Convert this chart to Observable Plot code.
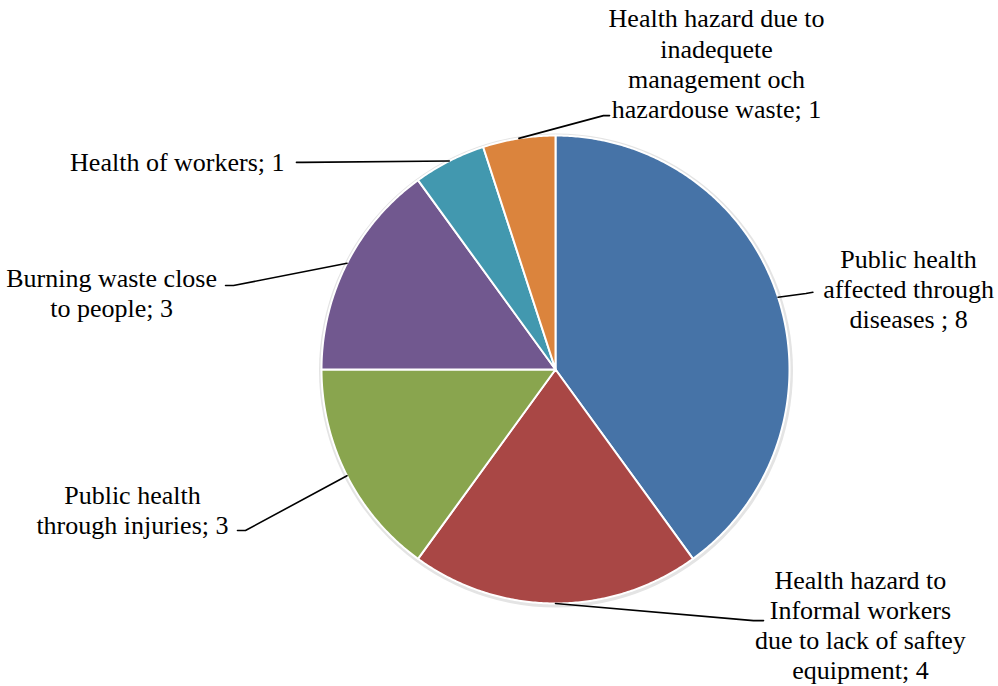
<!DOCTYPE html>
<html>
<head>
<meta charset="utf-8">
<script src="https://cdn.jsdelivr.net/npm/d3@7"></script>
<script src="https://cdn.jsdelivr.net/npm/@observablehq/plot@0.6"></script>
<style>
  html, body { margin: 0; padding: 0; background: #ffffff; }
  #chart { width: 998px; height: 686px; }
</style>
</head>
<body>
<div id="chart"></div>
<script>
// ---- Data ----
const categories = [
  "Public health affected through diseases",
  "Health hazard to Informal workers due to lack of saftey equipment",
  "Public health through injuries",
  "Burning waste close to people",
  "Health of workers",
  "Health hazard due to inadequete management och hazardouse waste"
];
const values = [8, 4, 3, 3, 1, 1];
const labelTexts = [
  "Public health\naffected through\ndiseases ; 8",
  "Health hazard to\nInformal workers\ndue to lack of saftey\nequipment; 4",
  "Public health\nthrough injuries; 3",
  "Burning waste close\nto people; 3",
  "Health of workers; 1",
  "Health hazard due to\ninadequete\nmanagement och\nhazardouse waste; 1"
];
const sliceColors = ["#4673A7", "#A94745", "#89A54E", "#71588F", "#4298AF", "#DB843D"];

// ---- Label layout (in pie-radius units) ----
const labelLayout = [
  {tx: 1.509, ty: 0.346, anchor: "middle", bx: 1.07, by: 0.325, ex: 1.10, ey: 0.330},
  {tx: 1.303, ty: -1.090, anchor: "middle", bx: 0.846, by: -1.073, ex: 0.889, ey: -1.073},
  {tx: -1.808, ty: -0.596, anchor: "middle", bx: -1.325, by: -0.688, ex: -1.359, ey: -0.688},
  {tx: -1.897, ty: 0.329, anchor: "middle", bx: -1.376, by: 0.359, ex: -1.410, ey: 0.359},
  {tx: -1.158, ty: 0.889, anchor: "end", bx: -1.081, by: 0.885, ex: -1.107, ey: 0.885},
  {tx: 0.688, ty: 1.310, anchor: "middle", bx: 0.205, by: 1.085, ex: 0.231, ey: 1.085}
];

// ---- Geometry from data ----
const arcs = d3.pie().sort(null).value(d => d)(values);
const slicePts = [];
arcs.forEach((a, i) => {
  const n = Math.max(8, Math.ceil((a.endAngle - a.startAngle) / (Math.PI / 360)));
  slicePts.push({k: i, x: 0, y: 0, c: sliceColors[i]});
  for (let j = 0; j <= n; j++) {
    const t = a.startAngle + (a.endAngle - a.startAngle) * j / n;
    slicePts.push({k: i, x: Math.sin(t), y: Math.cos(t), c: sliceColors[i]});
  }
  slicePts.push({k: i, x: 0, y: 0, c: sliceColors[i]});
});

const leaderPts = [];
arcs.forEach((a, i) => {
  const m = (a.startAngle + a.endAngle) / 2;
  const L = labelLayout[i];
  leaderPts.push({k: i, x: Math.sin(m), y: Math.cos(m)});
  leaderPts.push({k: i, x: L.bx, y: L.by});
  leaderPts.push({k: i, x: L.ex, y: L.ey});
});

const labelRows = labelTexts.map((t, i) => ({text: t, ...labelLayout[i]}));

const textOpts = anchor => ({
  x: "tx", y: "ty", text: "text",
  textAnchor: anchor,
  lineAnchor: "middle",
  lineHeight: 1.16,
  fontSize: 26,
  fontFamily: "'Liberation Serif', 'Times New Roman', serif",
  fill: "#000000"
});

const chart = Plot.plot({
  width: 998,
  height: 686,
  margin: 0,
  style: {background: "#ffffff"},
  x: {domain: [-1, 1], range: [321, 789], axis: null},
  y: {domain: [-1, 1], range: [603, 135], axis: null},
  marks: [
    Plot.dot([0], {x: () => 0, y: () => 0, r: 237, fill: "#e4e4e4", dx: 0.5, dy: 1}),
    Plot.line(slicePts, {x: "x", y: "y", z: "k", fill: "c", stroke: "#ffffff", strokeWidth: 2, curve: "linear", strokeLinejoin: "round"}),
    Plot.line(leaderPts, {x: "x", y: "y", z: "k", stroke: "#000000", strokeWidth: 1.6, curve: "linear"}),
    Plot.text(labelRows.filter(d => d.anchor === "middle"), textOpts("middle")),
    Plot.text(labelRows.filter(d => d.anchor === "end"), textOpts("end"))
  ]
});
document.getElementById("chart").appendChild(chart);
</script>
</body>
</html>
